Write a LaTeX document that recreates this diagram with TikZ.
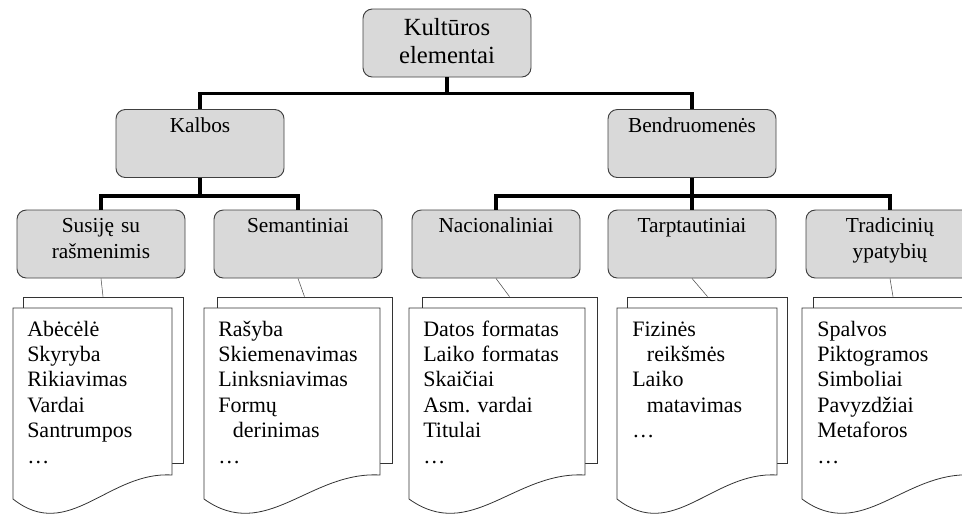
\documentclass[tikz,border=0pt]{standalone}
\usepackage{fontspec}
\setmainfont{Liberation Serif}
\begin{document}
\begin{tikzpicture}[x={(0.75pt, 0pt)}, y={(0pt, -0.75pt)}, font=\fontsize{16pt}{19pt}\selectfont]
  \tikzstyle{elem}=[draw=black!75, fill=black!15, rounded corners=7pt, line width=0.7pt, text width=114pt, align=center, inner xsep=6pt, inner ysep=6pt, text height=11pt, text depth=28pt]
  \tikzstyle{tree}=[line width=2.4pt]
  \tikzstyle{back}=[draw=black!80, fill=white, line width=0.6pt, minimum height=124.5pt, inner sep=0pt]
  \tikzstyle{page}=[draw=black!80, fill=white, line width=0.6pt]
  \tikzstyle{list}=[anchor=base west, inner sep=0pt, text width=118pt, align=left, font=\fontsize{16.5pt}{19.1pt}\selectfont]

\useasboundingbox (0, 0) rectangle (962, 515);
\clip (0, 0) rectangle (962, 515);

\node[elem, font=\fontsize{18.5pt}{21.5pt}\selectfont, text height=13.5pt, text depth=25.5pt] (e0) at (447, 43) {Kultūros\\elementai};

\node[elem] (e1) at (200, 143.5) {Kalbos};
\node[elem] (e2) at (692, 143.5) {Bendruomenės};
\draw[tree] (e0.south) -- ++(0, 16) coordinate (j0);
\draw[tree] (j0) -| (e1.north);
\draw[tree] (j0) -| (e2.north);

\node[elem] (c1) at (101, 244) {Susiję su\\rašmenimis};
\node[elem] (c2) at (298, 244) {Semantiniai};
\draw[tree] (e1.south) -- ++(0, 18) coordinate (j1);
\draw[tree] (j1) -| (c1.north);
\draw[tree] (j1) -| (c2.north);

\node[elem] (c3) at (496, 244) {Nacionaliniai};
\node[elem] (c4) at (692, 244) {Tarptautiniai};
\node[elem] (c5) at (890, 244) {Tradicinių\\ypatybių};
\draw[tree] (e2.south) -- ++(0, 18) coordinate (j2);
\draw[tree] (j2) -| (c3.north);
\draw[tree] (j2) -| (c4.north);
\draw[tree] (j2) -| (c5.north);

\node[back, minimum width=120pt] (b1) at (103, 380) {};
\draw[thin, black!70] (c1.south) -- (b1.north);
\draw[page] (13, 308) -- (13, 499) .. controls (68.6, 543) and (108.4, 471) .. (172, 475) -- (172, 308) -- cycle;
\node[list] (t1) at (27, 336) {Abėcėlė\\Skyryba\\Rikiavimas\\Vardai\\Santrumpos\\…};

\node[back, minimum width=131.25pt] (b2) at (304.5, 380) {};
\draw[thin, black!70] (c2.south) -- (b2.north);
\draw[page] (204, 308) -- (204, 499) .. controls (265.6, 543) and (309.6, 471) .. (380, 475) -- (380, 308) -- cycle;
\node[list] (t2) at (218, 336) {Rašyba\\Skiemenavimas\\Linksniavimas\\Formų\\\hspace*{11pt}derinimas\\…};

\node[back, minimum width=131.25pt] (b3) at (509.5, 380) {};
\draw[thin, black!70] (c3.south) -- (b3.north);
\draw[page] (409, 308) -- (409, 499) .. controls (470.6, 543) and (514.6, 471) .. (585, 475) -- (585, 308) -- cycle;
\node[list] (t3) at (423, 336) {Datos formatas\\Laiko formatas\\Skaičiai\\Asm.\ vardai\\Titulai\\…};

\node[back, minimum width=120pt] (b4) at (707.5, 380) {};
\draw[thin, black!70] (c4.south) -- (b4.north);
\draw[page] (617, 308) -- (617, 499) .. controls (673, 543) and (713, 471) .. (777, 475) -- (777, 308) -- cycle;
\node[list] (t4) at (632, 336) {Fizinės\\\hspace*{11pt}reikšmės\\Laiko\\\hspace*{11pt}matavimas\\…};

\node[back, minimum width=120pt] (b5) at (893, 380) {};
\draw[thin, black!70] (c5.south) -- (b5.north);
\draw[page] (802, 308) -- (802, 499) .. controls (861.5, 543) and (904, 471) .. (972, 475) -- (972, 308) -- cycle;
\node[list] (t5) at (817, 336) {Spalvos\\Piktogramos\\Simboliai\\Pavyzdžiai\\Metaforos\\…};

\end{tikzpicture}
\end{document}
